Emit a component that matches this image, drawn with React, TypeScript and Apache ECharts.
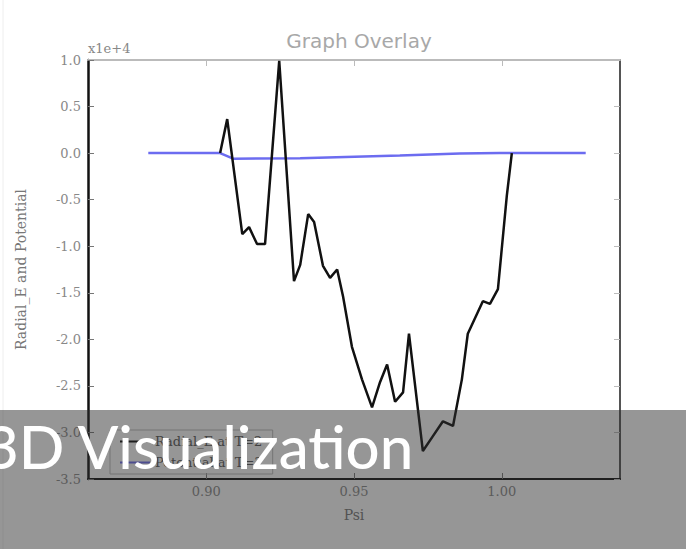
import React, { useEffect, useRef } from "react";
import * as echarts from "echarts";

// Psi positions and Radial_E values of the black trace
const radialPsi = [
  0.9047, 0.9071, 0.9122, 0.9145, 0.9172, 0.9199, 0.9247, 0.9297, 0.9318, 0.9345,
  0.9365, 0.9395, 0.9419, 0.9443, 0.9463, 0.9493, 0.9527, 0.9561, 0.9588, 0.9612,
  0.9639, 0.9666, 0.9686, 0.9733, 0.9767, 0.9801, 0.9835, 0.9865, 0.9885, 0.9936,
  0.9960, 0.9987, 1.0017, 1.0034,
];
const radialE = [
  0, 3650, -8700, -7950, -9770, -9770, 9900, -13750, -12000, -6550,
  -7400, -12100, -13400, -12500, -15400, -20800, -24300, -27300, -24600, -22700,
  -26700, -25700, -19400, -32000, -30400, -28800, -29300, -24300, -19400, -15900,
  -16200, -14600, -4600, 0,
];

// Psi positions and values of the blue potential curve
const potentialPsi = [0.8804, 0.9047, 0.9091, 0.9318, 0.9655, 0.9858, 0.9993, 1.0284];
const potential = [0, 0, -600, -550, -250, -50, 0, 0];

const xTicks = [0.9, 0.95, 1.0];
const seriesNames = ["Radial_E at T=2", "Potential at T=2"];

const serif = "'DejaVu Serif', 'Liberation Serif', serif";

export default function App() {
  const ref = useRef<HTMLDivElement>(null);

  useEffect(() => {
    if (!ref.current) return;
    const chart = echarts.init(ref.current, null, { renderer: "svg" });

    const radialData = radialPsi.map((p, i) => [p, radialE[i]]);
    const potentialData = potentialPsi.map((p, i) => [p, potential[i]]);

    const xBase = {
      type: "value" as const,
      min: 0.86,
      max: 1.04,
      splitLine: { show: false },
    };
    const yBase = {
      type: "value" as const,
      min: -35000,
      max: 10000,
      interval: 5000,
      splitLine: { show: false },
    };
    const tickStyle = { color: "#777", width: 1 };

    chart.setOption({
      animation: false,
      backgroundColor: "#ffffff",
      title: {
        text: "Graph Overlay",
        left: 354,
        top: 26,
        textAlign: "center",
        textStyle: {
          fontFamily: "'DejaVu Sans', sans-serif",
          fontWeight: "normal",
          fontSize: 20,
          color: "#a8a8a8",
        },
      },
      grid: { left: 88, right: 72, top: 60, bottom: 70 },
      legend: {
        orient: "vertical",
        left: 110,
        top: 430,
        data: seriesNames,
        icon: "rect",
        itemWidth: 30,
        itemHeight: 2,
        itemGap: 8,
        padding: [5, 10],
        borderColor: "#bbb",
        borderWidth: 1,
        textStyle: { fontFamily: serif, fontSize: 13, color: "#555" },
      },
      xAxis: [
        {
          ...xBase,
          position: "bottom",
          name: "Psi",
          nameLocation: "middle",
          nameGap: 29,
          nameTextStyle: { fontFamily: serif, fontSize: 14, color: "#777" },
          axisLine: { show: true, onZero: false, lineStyle: { color: "#111", width: 2 } },
          axisTick: { show: true, inside: true, length: 6, customValues: xTicks, lineStyle: tickStyle },
          axisLabel: {
            customValues: xTicks,
            formatter: (v: number) => v.toFixed(2),
            fontFamily: serif,
            fontSize: 13,
            color: "#888",
            margin: 6,
          },
        },
        {
          ...xBase,
          position: "top",
          axisLine: { show: true, onZero: false, lineStyle: { color: "#bbb", width: 2 } },
          axisTick: { show: true, inside: true, length: 6, customValues: xTicks, lineStyle: { color: "#bbb" } },
          axisLabel: { show: false },
        },
      ],
      yAxis: [
        {
          ...yBase,
          position: "left",
          name: "Radial_E and Potential",
          nameLocation: "middle",
          nameGap: 60,
          nameTextStyle: { fontFamily: serif, fontSize: 14, color: "#777" },
          axisLine: { show: true, onZero: false, lineStyle: { color: "#111", width: 2.5 } },
          axisTick: { show: true, inside: true, length: 6, lineStyle: tickStyle },
          axisLabel: {
            formatter: (v: number) => (v / 10000).toFixed(1),
            fontFamily: serif,
            fontSize: 13,
            color: "#888",
            margin: 7,
          },
        },
        {
          ...yBase,
          position: "right",
          axisLine: { show: true, onZero: false, lineStyle: { color: "#555", width: 2 } },
          axisTick: { show: true, inside: true, length: 6, lineStyle: { color: "#bbb" } },
          axisLabel: { show: false },
        },
      ],
      series: [
        {
          name: seriesNames[0],
          type: "line",
          data: radialData,
          xAxisIndex: 0,
          yAxisIndex: 0,
          showSymbol: false,
          symbol: "none",
          lineStyle: { color: "#111", width: 2.5 },
          itemStyle: { color: "#111" },
          z: 3,
        },
        {
          name: seriesNames[1],
          type: "line",
          data: potentialData,
          xAxisIndex: 0,
          yAxisIndex: 0,
          showSymbol: false,
          symbol: "none",
          lineStyle: { color: "#6c6cf0", width: 2.5 },
          itemStyle: { color: "#6c6cf0" },
          z: 2,
        },
      ],
      graphic: [
        {
          type: "text",
          left: 88,
          top: 42,
          z: 10,
          style: { text: "x1e+4", font: `13px ${serif}`, fill: "#888" },
        },
        {
          type: "line",
          z: 10,
          shape: { x1: 3, y1: 0, x2: 3, y2: 549 },
          style: { stroke: "#eeeeee", lineWidth: 1 },
        },
        {
          type: "rect",
          z: 100,
          shape: { x: 0, y: 410, width: 686, height: 139 },
          style: { fill: "rgba(45,45,45,0.5)" },
        },
        {
          type: "text",
          z: 101,
          x: -16,
          y: 476,
          style: {
            text: "3D Visualization",
            font: "500 60px Lato, 'Open Sans', sans-serif",
            fill: "#ffffff",
            textVerticalAlign: "bottom",
            verticalAlign: "bottom",
          },
        },
      ],
    });

    return () => chart.dispose();
  }, []);

  return (
    <div
      ref={ref}
      style={{ position: "absolute", left: 0, top: 0, width: 692, height: 549 }}
    />
  );
}
